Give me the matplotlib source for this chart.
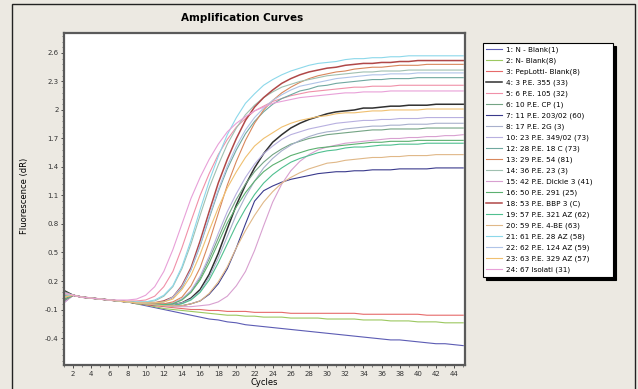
import matplotlib

matplotlib.use("Agg")
import matplotlib.pyplot as plt
from matplotlib.patches import Rectangle
from matplotlib.ticker import FixedLocator

# --- data (fluorescence dR per cycle) ---
cycles = list(range(1, 46))

w01 = [0.05, 0.05, 0.03, 0.02, 0.01, 0.00, -0.01, -0.02, -0.04, -0.06, -0.08, -0.10,
       -0.12, -0.14, -0.16, -0.18, -0.20, -0.21, -0.23, -0.24, -0.26, -0.27, -0.28, -0.29,
       -0.30, -0.31, -0.32, -0.33, -0.34, -0.35, -0.36, -0.37, -0.38, -0.39, -0.40, -0.41,
       -0.42, -0.42, -0.43, -0.44, -0.45, -0.46, -0.46, -0.47, -0.48]
w02 = [0.03, 0.05, 0.03, 0.02, 0.01, 0.00, -0.01, -0.02, -0.04, -0.05, -0.07, -0.09,
       -0.10, -0.11, -0.12, -0.13, -0.14, -0.15, -0.16, -0.16, -0.17, -0.17, -0.18, -0.18,
       -0.18, -0.19, -0.19, -0.19, -0.19, -0.20, -0.20, -0.20, -0.20, -0.21, -0.21, -0.21,
       -0.22, -0.22, -0.22, -0.23, -0.23, -0.23, -0.24, -0.24, -0.24]
w03 = [0.05, 0.05, 0.03, 0.02, 0.01, 0.00, -0.01, -0.02, -0.03, -0.05, -0.06, -0.07,
       -0.08, -0.09, -0.10, -0.10, -0.11, -0.11, -0.12, -0.12, -0.12, -0.13, -0.13, -0.13,
       -0.13, -0.14, -0.14, -0.14, -0.14, -0.14, -0.14, -0.14, -0.14, -0.15, -0.15, -0.15,
       -0.15, -0.15, -0.15, -0.15, -0.16, -0.16, -0.16, -0.16, -0.16]
w04 = [0.10, 0.05, 0.03, 0.02, 0.01, 0.00, -0.01, -0.02, -0.03, -0.04, -0.05, -0.05,
       -0.05, -0.03, 0.02, 0.11, 0.27, 0.49, 0.75, 1.00, 1.21, 1.39, 1.54, 1.66,
       1.74, 1.81, 1.86, 1.90, 1.93, 1.96, 1.98, 1.99, 2.00, 2.02, 2.02, 2.03,
       2.04, 2.04, 2.05, 2.05, 2.05, 2.06, 2.06, 2.06, 2.06]
w05 = [0.06, 0.05, 0.03, 0.02, 0.01, 0.00, -0.01, -0.01, -0.01, 0.00, 0.04, 0.14,
       0.30, 0.55, 0.83, 1.10, 1.33, 1.53, 1.69, 1.82, 1.91, 1.99, 2.04, 2.09,
       2.12, 2.15, 2.17, 2.19, 2.20, 2.21, 2.22, 2.23, 2.24, 2.24, 2.25, 2.25,
       2.25, 2.26, 2.26, 2.26, 2.26, 2.26, 2.26, 2.26, 2.26]
w06 = [0.09, 0.05, 0.03, 0.02, 0.01, 0.00, -0.01, -0.02, -0.03, -0.04, -0.04, -0.05,
       -0.04, 0.01, 0.09, 0.23, 0.43, 0.65, 0.87, 1.06, 1.22, 1.35, 1.45, 1.53,
       1.59, 1.64, 1.67, 1.70, 1.72, 1.74, 1.75, 1.76, 1.77, 1.78, 1.79, 1.79,
       1.80, 1.80, 1.80, 1.80, 1.81, 1.81, 1.81, 1.81, 1.81]
w07 = [-0.02, 0.05, 0.03, 0.02, 0.01, 0.00, -0.01, -0.02, -0.03, -0.04, -0.05, -0.06,
       -0.06, -0.06, -0.04, -0.01, 0.06, 0.17, 0.33, 0.55, 0.80, 1.04, 1.15, 1.20,
       1.24, 1.27, 1.29, 1.31, 1.33, 1.34, 1.35, 1.35, 1.36, 1.36, 1.37, 1.37,
       1.37, 1.38, 1.38, 1.38, 1.38, 1.39, 1.39, 1.39, 1.39]
w08 = [-0.03, 0.05, 0.03, 0.02, 0.01, 0.00, -0.01, -0.02, -0.03, -0.04, -0.05, -0.05,
       -0.05, -0.03, 0.01, 0.09, 0.24, 0.44, 0.67, 0.90, 1.09, 1.25, 1.39, 1.49,
       1.57, 1.63, 1.68, 1.72, 1.75, 1.77, 1.78, 1.80, 1.81, 1.82, 1.83, 1.83,
       1.84, 1.84, 1.85, 1.85, 1.85, 1.86, 1.86, 1.86, 1.86]
w10 = [-0.01, 0.05, 0.03, 0.02, 0.01, 0.00, -0.01, -0.02, -0.03, -0.04, -0.04, -0.04,
       -0.03, 0.01, 0.10, 0.25, 0.46, 0.70, 0.93, 1.12, 1.29, 1.43, 1.54, 1.62,
       1.69, 1.74, 1.77, 1.80, 1.82, 1.84, 1.86, 1.87, 1.88, 1.89, 1.89, 1.90,
       1.90, 1.91, 1.91, 1.91, 1.92, 1.92, 1.92, 1.92, 1.92]
w12 = [-0.02, 0.05, 0.03, 0.02, 0.01, 0.00, -0.01, -0.02, -0.03, -0.03, -0.03, -0.02,
       0.03, 0.13, 0.32, 0.57, 0.86, 1.14, 1.38, 1.58, 1.75, 1.88, 1.98, 2.06,
       2.12, 2.16, 2.20, 2.22, 2.25, 2.26, 2.28, 2.29, 2.30, 2.31, 2.32, 2.32,
       2.33, 2.33, 2.33, 2.34, 2.34, 2.34, 2.34, 2.34, 2.34]
w13 = [0.01, 0.05, 0.03, 0.02, 0.01, 0.00, -0.01, -0.02, -0.03, -0.04, -0.04, -0.04,
       -0.02, 0.03, 0.15, 0.34, 0.61, 0.91, 1.21, 1.46, 1.68, 1.86, 2.00, 2.10,
       2.18, 2.24, 2.29, 2.33, 2.36, 2.38, 2.40, 2.41, 2.43, 2.44, 2.45, 2.45,
       2.46, 2.47, 2.47, 2.47, 2.48, 2.48, 2.48, 2.48, 2.48]
w14 = [0.02, 0.05, 0.03, 0.02, 0.01, 0.00, -0.01, -0.02, -0.02, -0.02, -0.01, 0.04,
       0.14, 0.33, 0.59, 0.89, 1.18, 1.42, 1.64, 1.81, 1.95, 2.05, 2.13, 2.19,
       2.24, 2.27, 2.30, 2.32, 2.34, 2.36, 2.37, 2.38, 2.39, 2.40, 2.40, 2.41,
       2.41, 2.41, 2.42, 2.42, 2.42, 2.42, 2.42, 2.42, 2.42]
w15 = [-0.03, 0.05, 0.03, 0.02, 0.01, 0.00, -0.01, -0.02, -0.03, -0.04, -0.05, -0.06,
       -0.07, -0.07, -0.07, -0.06, -0.05, -0.02, 0.04, 0.15, 0.30, 0.52, 0.78, 1.03,
       1.22, 1.36, 1.46, 1.53, 1.58, 1.61, 1.63, 1.65, 1.66, 1.67, 1.68, 1.69,
       1.70, 1.70, 1.71, 1.71, 1.72, 1.72, 1.73, 1.73, 1.74]
w16 = [0.05, 0.05, 0.03, 0.02, 0.01, 0.00, -0.01, -0.02, -0.03, -0.04, -0.04, -0.05,
       -0.04, 0.00, 0.08, 0.21, 0.39, 0.60, 0.81, 0.98, 1.13, 1.25, 1.35, 1.42,
       1.47, 1.52, 1.55, 1.58, 1.60, 1.61, 1.62, 1.63, 1.64, 1.65, 1.66, 1.66,
       1.67, 1.67, 1.67, 1.68, 1.68, 1.68, 1.68, 1.68, 1.68]
w18 = [0.00, 0.05, 0.03, 0.02, 0.01, 0.00, -0.01, -0.02, -0.03, -0.03, -0.03, -0.01,
       0.03, 0.15, 0.34, 0.62, 0.93, 1.23, 1.48, 1.70, 1.89, 2.03, 2.13, 2.21,
       2.28, 2.33, 2.37, 2.40, 2.42, 2.44, 2.45, 2.47, 2.48, 2.49, 2.49, 2.50,
       2.50, 2.51, 2.51, 2.52, 2.52, 2.52, 2.52, 2.52, 2.52]
w19 = [0.00, 0.05, 0.03, 0.02, 0.01, 0.00, -0.01, -0.02, -0.03, -0.04, -0.05, -0.05,
       -0.06, -0.04, 0.00, 0.08, 0.21, 0.39, 0.59, 0.79, 0.96, 1.11, 1.23, 1.32,
       1.39, 1.45, 1.49, 1.52, 1.55, 1.57, 1.58, 1.60, 1.61, 1.61, 1.62, 1.63,
       1.63, 1.64, 1.64, 1.64, 1.65, 1.65, 1.65, 1.65, 1.65]
w20 = [0.06, 0.05, 0.03, 0.02, 0.01, 0.00, -0.01, -0.02, -0.03, -0.04, -0.05, -0.06,
       -0.06, -0.06, -0.04, -0.01, 0.07, 0.19, 0.35, 0.55, 0.73, 0.89, 1.03, 1.14,
       1.23, 1.29, 1.34, 1.38, 1.41, 1.44, 1.45, 1.47, 1.48, 1.49, 1.50, 1.50,
       1.51, 1.51, 1.52, 1.52, 1.52, 1.53, 1.53, 1.53, 1.53]
w21 = [0.04, 0.05, 0.03, 0.02, 0.01, 0.00, -0.01, -0.02, -0.02, -0.02, 0.00, 0.05,
       0.15, 0.35, 0.63, 0.95, 1.25, 1.51, 1.74, 1.92, 2.07, 2.17, 2.26, 2.32,
       2.37, 2.41, 2.44, 2.47, 2.49, 2.50, 2.51, 2.53, 2.54, 2.54, 2.55, 2.55,
       2.56, 2.56, 2.57, 2.57, 2.57, 2.57, 2.57, 2.57, 2.57]
w22 = [0.07, 0.05, 0.03, 0.02, 0.01, 0.00, -0.01, -0.02, -0.03, -0.03, -0.03, -0.02,
       0.03, 0.14, 0.32, 0.58, 0.88, 1.16, 1.41, 1.62, 1.79, 1.92, 2.02, 2.10,
       2.16, 2.21, 2.25, 2.27, 2.29, 2.31, 2.33, 2.34, 2.35, 2.36, 2.37, 2.37,
       2.38, 2.38, 2.38, 2.39, 2.39, 2.39, 2.39, 2.39, 2.39]
w23 = [0.03, 0.05, 0.03, 0.02, 0.01, 0.00, -0.01, -0.02, -0.03, -0.03, -0.03, -0.02,
       0.01, 0.11, 0.26, 0.48, 0.73, 0.97, 1.18, 1.35, 1.50, 1.62, 1.70, 1.76,
       1.82, 1.86, 1.89, 1.91, 1.93, 1.94, 1.96, 1.97, 1.97, 1.98, 1.99, 1.99,
       2.00, 2.00, 2.00, 2.00, 2.01, 2.01, 2.01, 2.01, 2.01]
w24 = [0.08, 0.05, 0.03, 0.02, 0.01, 0.00, 0.00, 0.00, 0.01, 0.05, 0.14, 0.30,
       0.53, 0.80, 1.07, 1.29, 1.48, 1.64, 1.77, 1.86, 1.93, 1.99, 2.03, 2.07,
       2.09, 2.11, 2.13, 2.14, 2.15, 2.16, 2.17, 2.18, 2.18, 2.19, 2.19, 2.19,
       2.20, 2.20, 2.20, 2.20, 2.20, 2.20, 2.20, 2.20, 2.20]

wells = [w01, w02, w03, w04, w05, w06, w07, w08, w10, w12, w13, w14,
         w15, w16, w18, w19, w20, w21, w22, w23, w24]

labels = [
    "1: N - Blank(1)",
    "2: N- Blank(8)",
    "3: PepLotti- Blank(8)",
    "4: 3 P.E. 355 (33)",
    "5: 6 P.E. 105 (32)",
    "6: 10 P.E. CP (1)",
    "7: 11 P.E. 203/02 (60)",
    "8: 17 P.E. 2G (3)",
    "10: 23 P.E. 349/02 (73)",
    "12: 28 P.E. 18 C (73)",
    "13: 29 P.E. 54 (81)",
    "14: 36 P.E. 23 (3)",
    "15: 42 P.E. Dickie 3 (41)",
    "16: 50 P.E. 291 (25)",
    "18: 53 P.E. BBP 3 (C)",
    "19: 57 P.E. 321 AZ (62)",
    "20: 59 P.E. 4-BE (63)",
    "21: 61 P.E. 28 AZ (58)",
    "22: 62 P.E. 124 AZ (59)",
    "23: 63 P.E. 329 AZ (57)",
    "24: 67 Isolati (31)",
]

colors = [
    "#5c5cb4", "#9cc860", "#e66a6a", "#303030", "#f090a8", "#74a484",
    "#3a3a8c", "#a8b0cc", "#b8b0e0", "#70a8a0", "#d8875c", "#a0c0b0",
    "#d8a0d0", "#5cb070", "#b04848", "#50c090", "#e0b888", "#8cd8ea",
    "#b0c4e8", "#f0c070", "#e8a0d8",
]

yticks = [2.6, 2.3, 2.0, 1.7, 1.4, 1.1, 0.8, 0.5, 0.2, -0.1, -0.4]
ytick_labels = ["2.6", "2.3", "2", "1.7", "1.4", "1.1", "0.8", "0.5", "0.2", "-0.1", "-0.4"]
xticks = list(range(2, 45, 2))

W, H = 638, 389
fig = plt.figure(figsize=(W / 100, H / 100), dpi=100)
fig.patch.set_facecolor("#ece9e2")

ax = fig.add_axes([64 / W, 1 - 365 / H, (465 - 64) / W, (365 - 33) / H])
ax.set_facecolor("white")
for y, lab, col in zip(wells, labels, colors):
    lw = 1.1 if col in ("#303030", "#b04848") else 0.8
    ax.plot(cycles, y, color=col, lw=lw, label=lab)

ax.set_xlim(1, 45.2)
ax.set_ylim(-0.684, 2.81)
ax.set_xticks(xticks)
ax.set_xticklabels([str(t) for t in xticks])
ax.xaxis.set_minor_locator(FixedLocator(list(range(1, 46))))
ax.set_yticks(yticks)
ax.set_yticklabels(ytick_labels)
ax.yaxis.set_minor_locator(FixedLocator([-0.64 + 0.06 * k for k in range(58)]))
ax.tick_params(which="major", direction="out", length=2.5, width=0.6,
               labelsize=5, pad=1.5, colors="#333")
ax.tick_params(which="minor", direction="out", length=1.5, width=0.5, colors="#555")
for sp in ax.spines.values():
    sp.set_linewidth(1.6)
    sp.set_color("#5a5a5a")

ax.set_xlabel("Cycles", fontsize=6, labelpad=1)
fig.text(25 / W, 1 - 196 / H, "Fluorescence (dR)", rotation=90, fontsize=6,
         ha="center", va="center")
fig.text(242 / W, 1 - 18 / H, "Amplification Curves", fontsize=7.5,
         weight="bold", ha="center", va="center")

leg = fig.legend(loc="upper left", bbox_to_anchor=(483 / W, 0, 130 / W, 1 - 43 / H),
                 mode="expand", fontsize=5.2, labelspacing=0.62, handlelength=2.2,
                 handletextpad=0.6, borderpad=0.45, borderaxespad=0,
                 fancybox=False, frameon=True, edgecolor="black", framealpha=1,
                 shadow={"color": "black", "alpha": 1})
leg.get_frame().set_linewidth(0.8)

fig.add_artist(Rectangle((12 / W, -0.02), (635 - 12) / W, 1.0 - 4 / H + 0.02,
                         transform=fig.transFigure, fill=False,
                         edgecolor="#222", lw=1.0))

fig.savefig("out.png", dpi=100, facecolor=fig.get_facecolor())
